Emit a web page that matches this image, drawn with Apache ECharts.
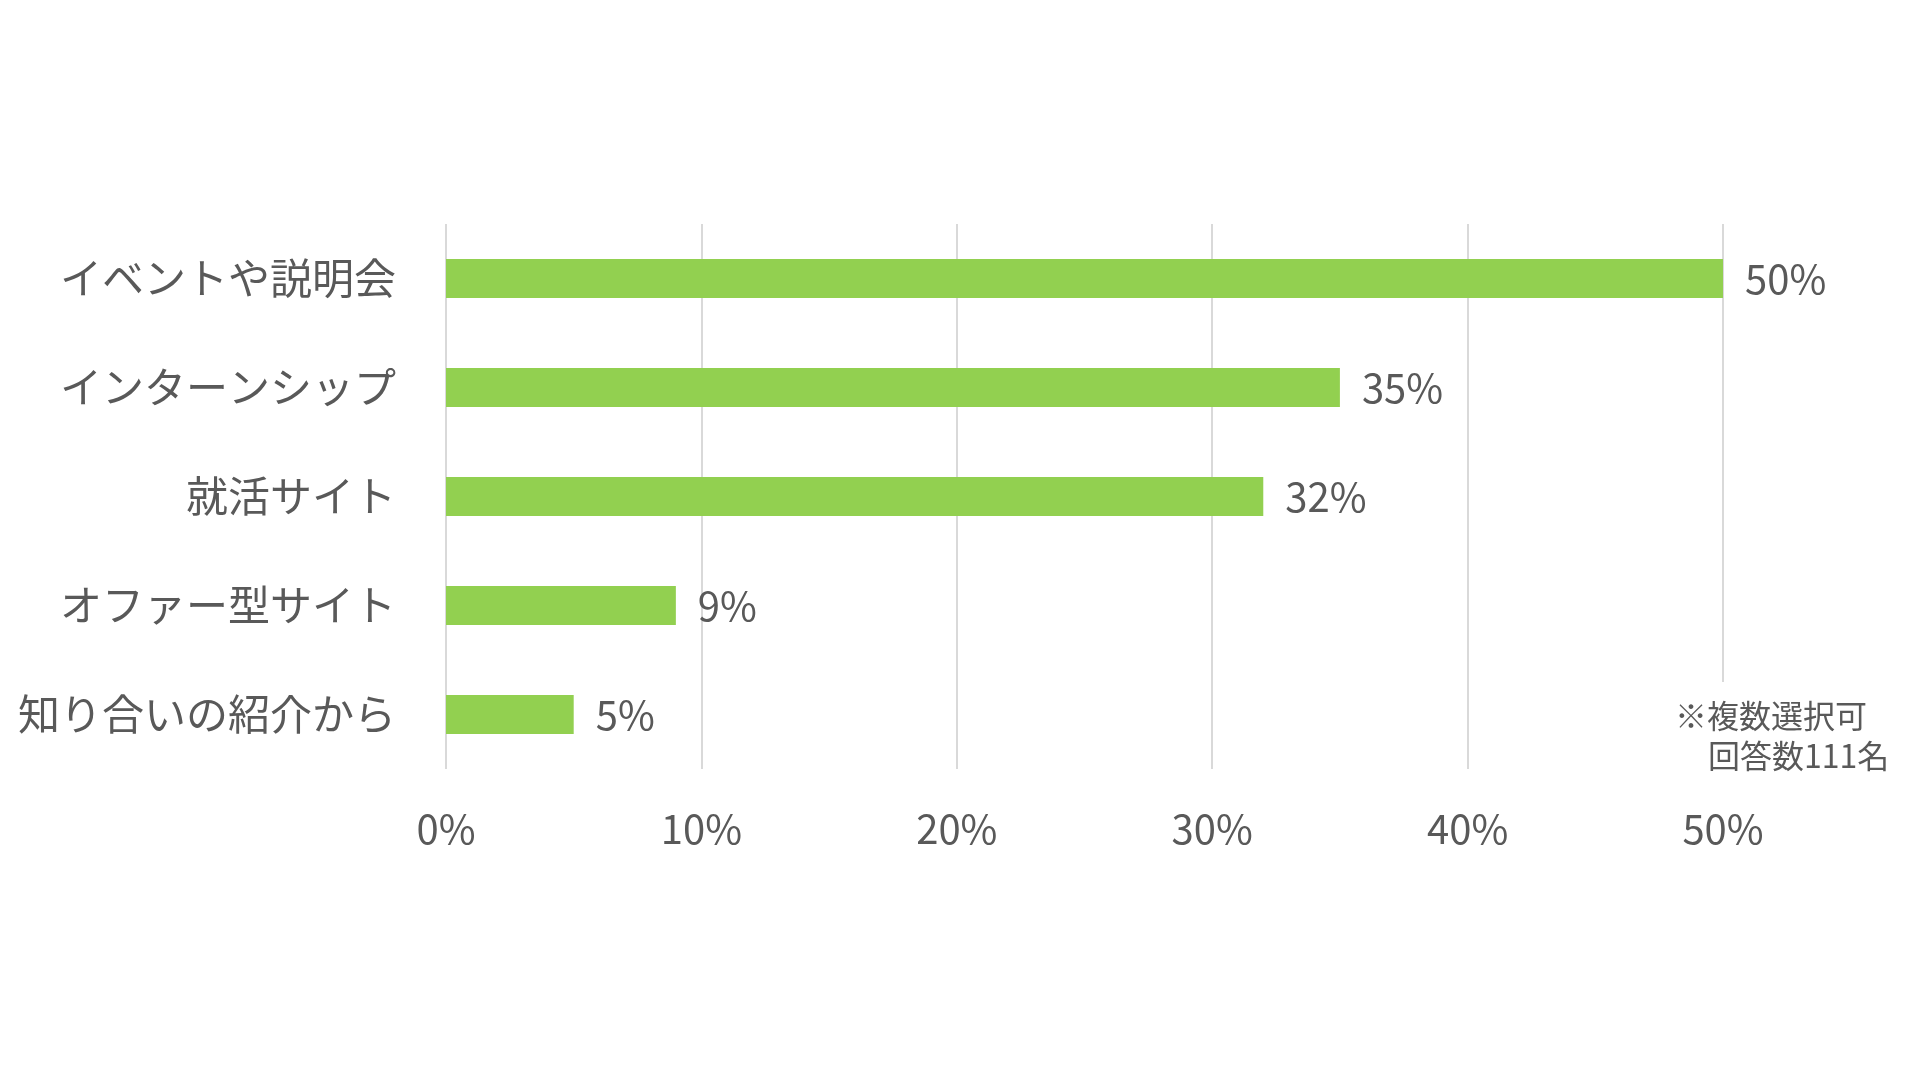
<!DOCTYPE html>
<html>
<head>
<meta charset="utf-8">
<script src="https://cdn.jsdelivr.net/npm/echarts@6/dist/echarts.min.js"></script>
<style>
html,body{margin:0;padding:0;background:#fff;}
#main{width:1920px;height:1080px;}
</style>
</head>
<body>
<div id="main"></div>
<script>
const categories = ['イベントや説明会', 'インターンシップ', '就活サイト', 'オファー型サイト', '知り合いの紹介から'];
const values = [50, 35, 32, 9, 5];
const noteLines = ['※複数選択可', '回答数111名'];

const FONT = '"Noto Sans CJK JP", "Noto Sans", sans-serif';
const TEXT = '#595959';

const chart = echarts.init(document.getElementById('main'));
chart.setOption({
  backgroundColor: '#ffffff',
  animation: false,
  grid: { left: 446, right: 197, top: 224, height: 545, containLabel: false },
  xAxis: {
    type: 'value', min: 0, max: 50, interval: 10,
    axisLine: { show: false },
    axisTick: { show: false },
    splitLine: { show: true, lineStyle: { color: '#D9D9D9', width: 2 } },
    axisLabel: { formatter: '{value}%', color: TEXT, fontSize: 40, fontFamily: FONT, margin: 40 }
  },
  yAxis: {
    type: 'category', data: categories, inverse: true,
    axisLine: { show: false },
    axisTick: { show: false },
    axisLabel: { color: TEXT, fontSize: 42, fontFamily: FONT, margin: 50 }
  },
  series: [{
    type: 'bar', data: values, barWidth: 39,
    itemStyle: { color: '#92D050' },
    label: { show: true, position: 'right', distance: 22, formatter: '{c}%', color: TEXT, fontSize: 40, fontFamily: FONT }
  }],
  graphic: [
    { type: 'rect', z: 100, shape: { x: 1660, y: 682, width: 260, height: 100 }, style: { fill: '#ffffff' } },
    { type: 'text', z: 101, left: 1675, top: 700, style: { text: noteLines[0], font: '32px ' + FONT, fill: TEXT } },
    { type: 'text', z: 101, left: 1708, top: 740, style: { text: noteLines[1], font: '32px ' + FONT, fill: TEXT } }
  ]
});
</script>
</body>
</html>
